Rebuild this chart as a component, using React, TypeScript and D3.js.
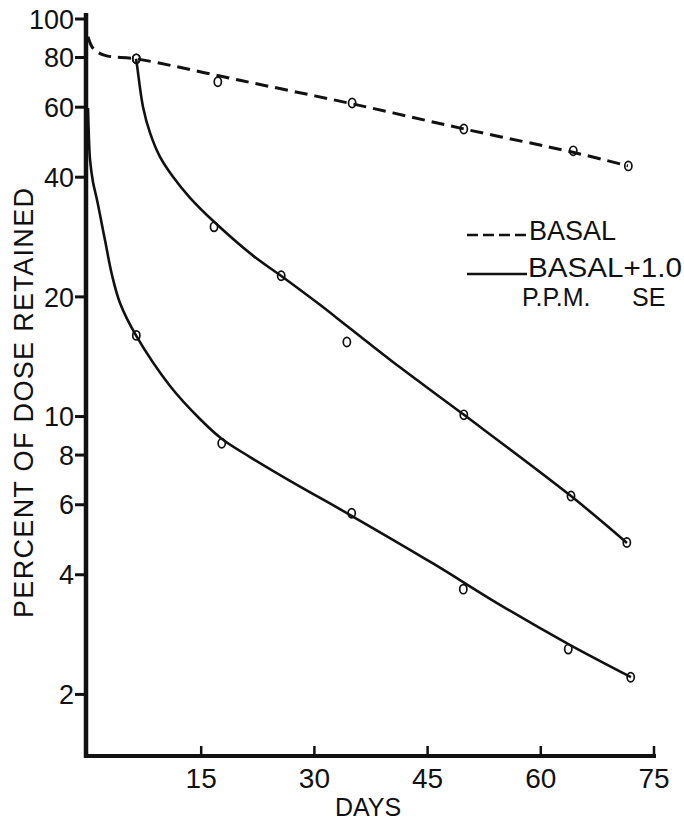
import React from "react";
import * as d3 from "d3";

// ---- tick labels
const xTicks = [15, 30, 45, 60, 75];
const yTicks = [2, 4, 6, 8, 10, 20, 40, 60, 80, 100];

// ---- BASAL (dashed) observed points
const basalDays = [6.4, 17.2, 35.0, 49.8, 64.3, 71.6];
const basalPct = [79.4, 69.5, 61.5, 52.9, 46.6, 42.7];
// BASAL fitted curve
const basalFitDays = [0, 0.53, 1.19, 2.25, 3.31, 6.36, 20.14, 34.98, 49.82, 64.27, 71.55];
const basalFitPct = [90.2, 85.1, 82.7, 81.0, 80.3, 79.4, 70.1, 61.2, 52.9, 46.2, 42.7];

// ---- BASAL + 1.0 PPM SE (solid, upper) observed points
const upperDays = [6.4, 16.7, 25.6, 34.3, 49.8, 64.0, 71.4];
const upperPct = [79.4, 30.0, 22.6, 15.4, 10.1, 6.31, 4.82];
const upperFitDays = [6.36, 6.49, 7.29, 8.22, 9.54, 11.26, 13.52, 16.7, 21.86, 25.57, 30.74, 34.32, 41.34, 49.82, 64.0, 71.42];
const upperFitPct = [79.4, 76.6, 60.1, 51.7, 45.0, 40.1, 35.5, 30.9, 25.4, 22.6, 19.1, 16.9, 13.3, 10.1, 6.31, 4.81];

// ---- solid, lower curve observed points
const lowerDays = [6.4, 17.72, 34.94, 49.73, 63.64, 71.91];
const lowerPct = [16.0, 8.57, 5.71, 3.68, 2.6, 2.21];
const lowerFitDays = [0, 0.13, 0.27, 0.66, 1.19, 2.25, 3.18, 4.24, 6.36, 10.87, 14.84, 17.76, 21.47, 26.77, 34.98, 45.71, 54.59, 63.6, 71.95];
const lowerFitPct = [59.7, 49.7, 44.2, 38.9, 35.1, 27.8, 22.7, 19.3, 16.0, 11.94, 9.86, 8.78, 7.91, 6.89, 5.62, 4.27, 3.36, 2.68, 2.21];

const W = 684;
const H = 822;
const FONT = "'Liberation Sans', Arial, sans-serif";
const INK = "#111";

export default function App() {
  const x = d3.scaleLinear().domain([0, 75]).range([88, 654]);
  const y = d3.scaleLog().domain([1.4, 100]).range([756, 19]);

  const line = d3
    .line<[number, number]>()
    .x((d) => x(d[0]))
    .y((d) => y(d[1]))
    .curve(d3.curveCatmullRom.alpha(0.5));

  const zip = (a: number[], b: number[]) => a.map((v, i) => [v, b[i]] as [number, number]);

  const axisX = x(0) - 2;
  const axisY = y(1.4);

  const circles = (days: number[], pct: number[], key: string) =>
    days.map((d, i) => (
      <ellipse
        key={key + i}
        cx={x(d)}
        cy={y(pct[i])}
        rx={3.6}
        ry={4.6}
        fill="none"
        stroke={INK}
        strokeWidth={1.7}
      />
    ));

  return (
    <svg
      width={W}
      height={H}
      viewBox={`0 0 ${W} ${H}`}
      style={{ position: "absolute", left: 0, top: 0, background: "#fff" }}
    >
      <rect x={0} y={0} width={W} height={H} fill="#fff" />

      {/* curves */}
      <path
        d={line(zip(basalFitDays, basalFitPct)) || ""}
        fill="none"
        stroke={INK}
        strokeWidth={3}
        strokeDasharray="13 7"
      />
      <path d={line(zip(upperFitDays, upperFitPct)) || ""} fill="none" stroke={INK} strokeWidth={2.6} />
      <path d={line(zip(lowerFitDays, lowerFitPct)) || ""} fill="none" stroke={INK} strokeWidth={2.6} />

      {circles(basalDays, basalPct, "b")}
      {circles(upperDays, upperPct, "u")}
      {circles(lowerDays, lowerPct, "l")}

      {/* axes */}
      <line x1={axisX} y1={13} x2={axisX} y2={axisY + 2} stroke={INK} strokeWidth={4.5} />
      <line x1={axisX - 2} y1={axisY} x2={x(75) + 2} y2={axisY} stroke={INK} strokeWidth={4} />

      {yTicks.map((t) => (
        <g key={"yt" + t}>
          <line x1={axisX - 11} x2={axisX} y1={y(t)} y2={y(t)} stroke={INK} strokeWidth={3} />
          <text
            x={axisX - 12}
            y={y(t)}
            dy="0.36em"
            textAnchor="end"
            fontFamily={FONT}
            fontSize={27}
            fill={INK}
          >
            {t}
          </text>
        </g>
      ))}

      {xTicks.map((t) => (
        <g key={"xt" + t}>
          <line x1={x(t)} x2={x(t)} y1={axisY} y2={axisY - 10} stroke={INK} strokeWidth={2.5} />
          <text x={x(t)} y={788} textAnchor="middle" fontFamily={FONT} fontSize={28} fill={INK}>
            {t}
          </text>
        </g>
      ))}

      <text x={368} y={816} textAnchor="middle" fontFamily={FONT} fontSize={25} fill={INK}>
        DAYS
      </text>

      <text
        transform={`translate(33, 403) rotate(-90)`}
        textAnchor="middle"
        fontFamily={FONT}
        fontSize={27}
        fill={INK}
        textLength={430}
        lengthAdjust="spacing"
      >
        PERCENT OF DOSE RETAINED
      </text>

      {/* legend */}
      <line x1={467} x2={527} y1={235} y2={235} stroke={INK} strokeWidth={2.6} strokeDasharray="11 5" />
      <text x={529} y={240} fontFamily={FONT} fontSize={27} fill={INK}>
        BASAL
      </text>
      <line x1={467} x2={527} y1={274} y2={274} stroke={INK} strokeWidth={2.6} />
      <text x={528} y={277} fontFamily={FONT} fontSize={27} fill={INK} textLength={154} lengthAdjust="spacingAndGlyphs">
        BASAL+1.0
      </text>
      <text x={522} y={306} fontFamily={FONT} fontSize={25} fill={INK}>
        P.P.M.
      </text>
      <text x={632} y={306} fontFamily={FONT} fontSize={25} fill={INK}>
        SE
      </text>
    </svg>
  );
}
